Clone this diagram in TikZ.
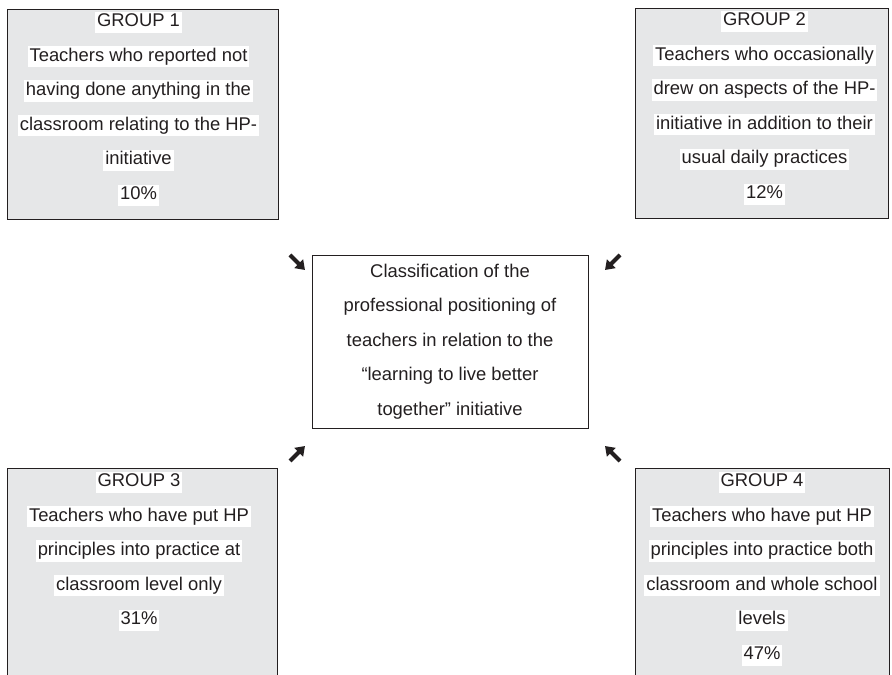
\documentclass[tikz,border=0pt]{standalone}
\usepackage{fontspec}
\setmainfont{Liberation Sans}
\usetikzlibrary{arrows.meta, positioning, calc}
\definecolor{groupgrey}{RGB}{230, 231, 232}
\definecolor{inkblack}{RGB}{35, 31, 32}
\newcommand{\hlline}[1]{{\setlength{\fboxsep}{2pt}\colorbox{white}{\rule[-4pt]{0pt}{15pt}#1}}}

\begin{document}
\begin{tikzpicture}[x=1pt, y=1pt,
  groupbox/.style={draw=inkblack, fill=groupgrey, line width=0.9pt, inner sep=0pt},
  grouptext/.style={anchor=north, align=center, inner sep=0pt, text=inkblack, font=\fontsize{18.4}{34.6}\selectfont},
  pointer/.style={line width=4.2pt, -{Triangle[length=9pt, width=12pt]}, inkblack}]
  \clip (0,0) rectangle (892,675);

  % group boxes
  \node[groupbox, minimum width=271, minimum height=210] (g1) at (142.5,561) {};
  \node[groupbox, minimum width=253, minimum height=210] (g2) at (761.5,562) {};
  \node[groupbox, minimum width=270, minimum height=227] (g3) at (142,93.5) {};
  \node[groupbox, minimum width=254, minimum height=227] (g4) at (762,93.5) {};

  \node[grouptext] (g1txt) at ($(g1.north)+(-4,-3)$) {
    \hlline{GROUP 1}\\
    \hlline{Teachers who reported not}\\
    \hlline{having done anything in the}\\
    \hlline{classroom relating to the HP-}\\
    \hlline{initiative}\\
    \hlline{10\%}};
  \node[grouptext] (g2txt) at ($(g2.north)+(3,-3)$) {
    \hlline{GROUP 2}\\
    \hlline{Teachers who occasionally}\\
    \hlline{drew on aspects of the HP-}\\
    \hlline{initiative in addition to their}\\
    \hlline{usual daily practices}\\
    \hlline{12\%}};
  \node[grouptext] (g3txt) at ($(g3.north)+(-3,-4)$) {
    \hlline{GROUP 3}\\
    \hlline{Teachers who have put HP}\\
    \hlline{principles into practice at}\\
    \hlline{classroom level only}\\
    \hlline{31\%}};
  \node[grouptext] (g4txt) at ($(g4.north)+(0,-4)$) {
    \hlline{GROUP 4}\\
    \hlline{Teachers who have put HP}\\
    \hlline{principles into practice both}\\
    \hlline{classroom and whole school}\\
    \hlline{levels}\\
    \hlline{47\%}};

  % centre box
  \node[draw=inkblack, fill=white, line width=0.9pt, minimum width=276, minimum height=173,
        align=center, text=inkblack, font=\fontsize{18.4}{34.6}\selectfont] (centre) at (450,333.5) {
    Classification of the\\
    professional positioning of\\
    teachers in relation to the\\
    “learning to live better\\
    together” initiative};

  % pointers
  \coordinate (p1a) at (290,420); \coordinate (p1b) at (305,405);
  \coordinate (p2a) at (620,420); \coordinate (p2b) at (605,405);
  \coordinate (p3a) at (290,214); \coordinate (p3b) at (305,229);
  \coordinate (p4a) at (620,214); \coordinate (p4b) at (605,229);
  \draw[pointer] (p1a) -- (p1b);
  \draw[pointer] (p2a) -- (p2b);
  \draw[pointer] (p3a) -- (p3b);
  \draw[pointer] (p4a) -- (p4b);
\end{tikzpicture}
\end{document}
